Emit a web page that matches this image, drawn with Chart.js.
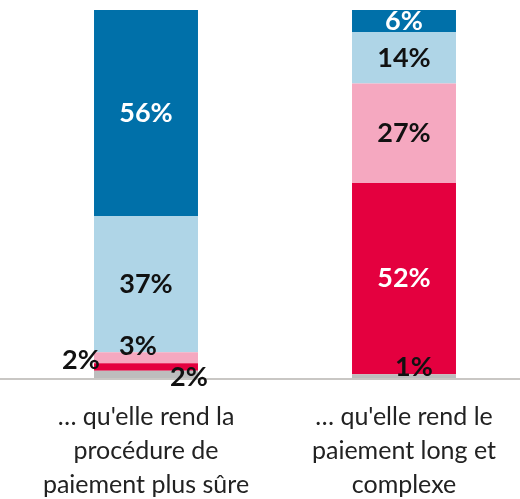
<!DOCTYPE html>
<html>
<head>
<meta charset="utf-8">
<script src="https://cdn.jsdelivr.net/npm/chart.js@4.4.0/dist/chart.umd.min.js"></script>
<style>
  html, body { margin: 0; padding: 0; background: #fff; overflow: hidden; }
  /* zone un peu plus grande que la fenêtre : la 2e barre est centrée à 404 px */
  #wrap { width: 533px; height: 524px; }
</style>
</head>
<body>
<div id="wrap"><canvas id="chart"></canvas></div>
<script>
// Catégories (axe X)
const categories = [
    ["… qu'elle rend la", "procédure de", "paiement plus sûre"],
    ["… qu'elle rend le", "paiement long et", "complexe"]
];

// Valeurs des séries (de bas en haut)
const grisValues = [2, 1];
const rougeValues = [2, 52];
const roseValues = [3, 27];
const bleuClairValues = [37, 14];
const bleuFonceValues = [56, 6];

// Décalages des étiquettes [dx, dy] par série et par barre
const labelOffsets = {
    gris: [[43, 3], [10, -9]],
    rouge: [[-65, -7], [0, 0]],
    rose: [[-8, -11], [0, 0]],
    bleuClair: [[0, 0], [0, 0]],
    bleuFonce: [[0, 0], [0, 0]]
};

// Plugin maison : ligne de base + pourcentages
const valueLabels = {
    id: 'valueLabels',
    beforeDatasetsDraw(chart) {
        const ctx = chart.ctx;
        const y = chart.scales.y.getPixelForValue(0) + 1;
        ctx.save();
        ctx.strokeStyle = '#c9c7c4';
        ctx.lineWidth = 2;
        ctx.beginPath();
        ctx.moveTo(0, y);
        ctx.lineTo(chart.width, y);
        ctx.stroke();
        ctx.restore();
    },
    afterDatasetsDraw(chart) {
        const ctx = chart.ctx;
        ctx.save();
        ctx.font = 'bold 27px Lato, "Open Sans", sans-serif';
        ctx.textAlign = 'center';
        ctx.textBaseline = 'middle';
        chart.data.datasets.forEach((ds, i) => {
            const meta = chart.getDatasetMeta(i);
            meta.data.forEach((bar, j) => {
                const off = labelOffsets[ds.key][j];
                const y = (bar.y + bar.base) / 2;
                ctx.fillStyle = ds.labelColors[j];
                ctx.fillText(ds.data[j] + '%', bar.x + off[0], y + off[1]);
            });
        });
        ctx.restore();
    }
};

new Chart(document.getElementById('chart'), {
    type: 'bar',
    data: {
        labels: categories,
        datasets: [
            { key: 'gris', data: grisValues, backgroundColor: '#bdbdbd', labelColors: ['#111', '#111'] },
            { key: 'rouge', data: rougeValues, backgroundColor: '#e4003f', labelColors: ['#111', '#fff'] },
            { key: 'rose', data: roseValues, backgroundColor: '#f5a8c0', labelColors: ['#111', '#111'] },
            { key: 'bleuClair', data: bleuClairValues, backgroundColor: '#afd5e7', labelColors: ['#111', '#111'] },
            { key: 'bleuFonce', data: bleuFonceValues, backgroundColor: '#0070a9', labelColors: ['#fff', '#fff'] }
        ]
    },
    options: {
        responsive: true,
        maintainAspectRatio: false,
        animation: false,
        layout: { padding: { top: 10, left: 17, right: 0, bottom: 0 } },
        plugins: {
            legend: { display: false },
            tooltip: { enabled: false }
        },
        datasets: {
            bar: { categoryPercentage: 1, barPercentage: 0.403 }
        },
        scales: {
            x: {
                stacked: true,
                grid: { display: false, drawTicks: false },
                border: { display: false },
                ticks: {
                    color: '#222',
                    padding: 22,
                    font: { family: 'Lato, "Open Sans", sans-serif', size: 25, lineHeight: '34px' }
                }
            },
            y: {
                stacked: true,
                display: false,
                min: 0,
                max: 100
            }
        }
    },
    plugins: [valueLabels]
});
</script>
</body>
</html>
